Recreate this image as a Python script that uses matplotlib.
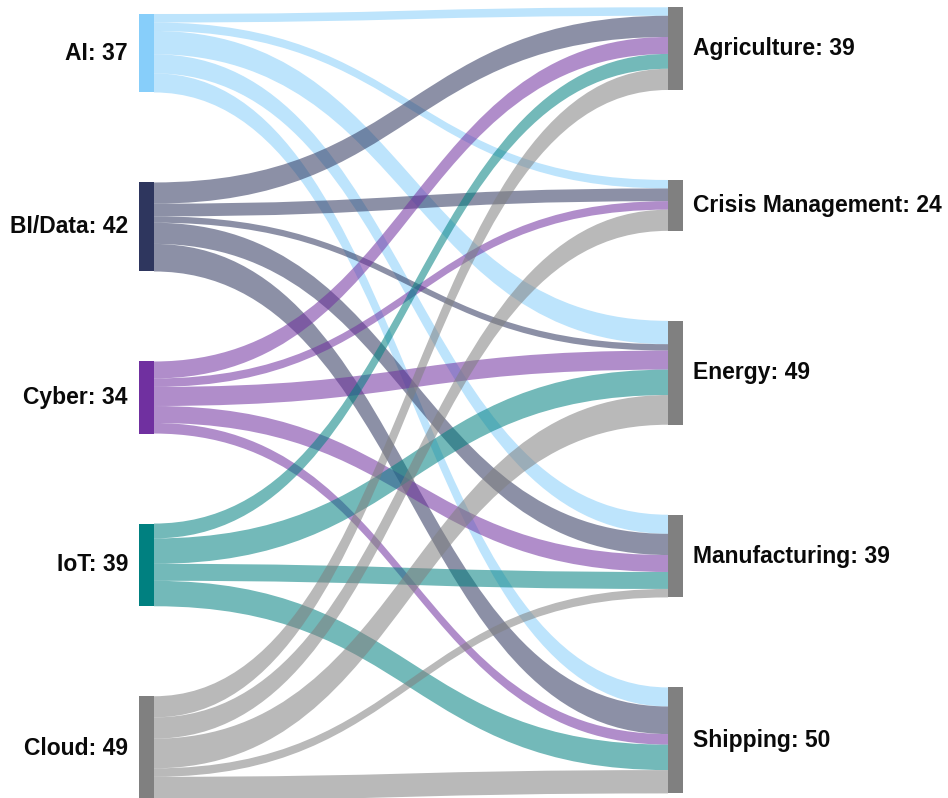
import matplotlib
matplotlib.use("Agg")
import matplotlib.pyplot as plt
from matplotlib.path import Path
from matplotlib.patches import PathPatch, Rectangle

# ---- data ----
sources = ["AI", "BI/Data", "Cyber", "IoT", "Cloud"]
targets = ["Agriculture", "Crisis Management", "Energy", "Manufacturing", "Shipping"]
# flows from each source to targets (in target order)
ai_flows = [4, 4, 11, 9, 9]
bi_flows = [10, 6, 3, 10, 13]
cyber_flows = [8, 4, 9, 8, 5]
iot_flows = [7, 0, 12, 8, 12]
cloud_flows = [10, 10, 14, 4, 11]
flows = [ai_flows, bi_flows, cyber_flows, iot_flows, cloud_flows]

source_colors = ["#87CEFA", "#2E365E", "#7030A0", "#008080", "#808080"]
target_color = "#808080"
link_alpha = 0.55

# ---- layout ----
W, H = 948, 798
scale = 2.12      # px per unit
gap = 90.0        # px between nodes
left_top = 14.0
right_top = 7.3
lx0, lx1 = 139, 154
rx0, rx1 = 668, 683

fig = plt.figure(figsize=(W / 100, H / 100), dpi=100)
ax = fig.add_axes([0, 0, 1, 1])
ax.set_xlim(0, W)
ax.set_ylim(H, 0)
ax.axis("off")

src_tot = [sum(f) for f in flows]
tgt_tot = [sum(flows[i][j] for i in range(len(sources))) for j in range(len(targets))]

src_y = []
y = left_top
for t in src_tot:
    src_y.append(y)
    y += t * scale + gap
tgt_y = []
y = right_top
for t in tgt_tot:
    tgt_y.append(y)
    y += t * scale + gap

# source-side offsets (ordered by target)
src_off = list(src_y)
src_pos = {}
for i in range(len(sources)):
    for j in range(len(targets)):
        v = flows[i][j]
        if v <= 0:
            continue
        src_pos[(i, j)] = src_off[i]
        src_off[i] += v * scale
# target-side offsets (ordered by source)
tgt_off = list(tgt_y)
tgt_pos = {}
for j in range(len(targets)):
    for i in range(len(sources)):
        v = flows[i][j]
        if v <= 0:
            continue
        tgt_pos[(i, j)] = tgt_off[j]
        tgt_off[j] += v * scale

xm = (lx1 + rx0) / 2
for i in range(len(sources)):
    for j in range(len(targets)):
        v = flows[i][j]
        if v <= 0:
            continue
        s0 = src_pos[(i, j)]
        s1 = s0 + v * scale
        t0 = tgt_pos[(i, j)]
        t1 = t0 + v * scale
        verts = [(lx1, s0), (xm, s0), (xm, t0), (rx0, t0),
                 (rx0, t1), (xm, t1), (xm, s1), (lx1, s1), (lx1, s0)]
        codes = [Path.MOVETO, Path.CURVE4, Path.CURVE4, Path.CURVE4,
                 Path.LINETO, Path.CURVE4, Path.CURVE4, Path.CURVE4, Path.CLOSEPOLY]
        ax.add_patch(PathPatch(Path(verts, codes), facecolor=source_colors[i],
                               alpha=link_alpha, edgecolor="none", lw=0))

font = dict(fontsize=16.5, fontweight="bold", family=["Liberation Sans", "DejaVu Sans"], color="#0a0a0a")
for i, name in enumerate(sources):
    h = src_tot[i] * scale
    ax.add_patch(Rectangle((lx0, src_y[i]), lx1 - lx0, h, facecolor=source_colors[i], edgecolor="none"))
    ax.text(lx0 - 11, src_y[i] + h / 2, f"{name}: {src_tot[i]}", ha="right", va="center", **font)
for j, name in enumerate(targets):
    h = tgt_tot[j] * scale
    ax.add_patch(Rectangle((rx0, tgt_y[j]), rx1 - rx0, h, facecolor=target_color, edgecolor="none"))
    ax.text(rx1 + 10, tgt_y[j] + h / 2, f"{name}: {tgt_tot[j]}", ha="left", va="center", **font)

fig.savefig("out.png", dpi=100)
